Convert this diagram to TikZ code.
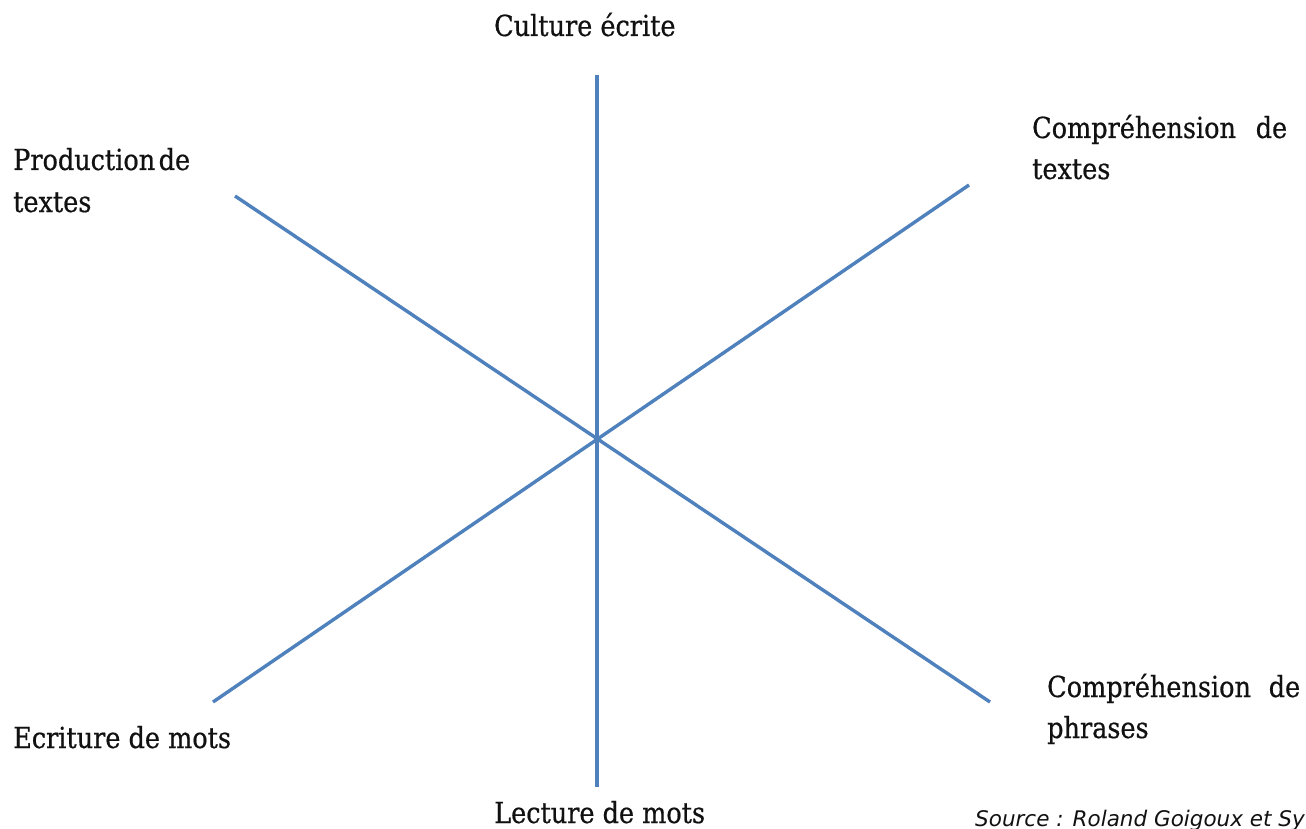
\documentclass[tikz,border=0pt]{standalone}
\usepackage{fontspec}
\setmainfont{DejaVu Serif}[FakeStretch=0.88,FakeBold=0.6]
\newfontfamily\srcfont{DejaVu Sans}
\definecolor{axisblue}{HTML}{4F81BD}
\definecolor{txt}{HTML}{111111}
\begin{document}
\begin{tikzpicture}[x=1pt,y=-1pt,
  axisline/.style={draw=axisblue,line width=3.4pt},
  lbl/.style={anchor=base west,inner sep=0pt,text=txt,font=\fontsize{29}{40}\selectfont},
  srclbl/.style={anchor=base west,inner sep=0pt,text=txt,font=\srcfont\itshape\fontsize{21.5}{24}\selectfont}]
\useasboundingbox (0,0) rectangle (1306,829);
\clip (0,0) rectangle (1306,829);
\fill[white] (0,0) rectangle (1306,829);
% axes
\coordinate (top) at (597,75);
\coordinate (bot) at (597,787);
\coordinate (tl) at (235,196);
\coordinate (br) at (990,702);
\coordinate (tr) at (969,185);
\coordinate (bl) at (213,702);
\draw[axisline] (top) -- (bot);
\draw[axisline] (tl) -- (br);
\draw[axisline] (tr) -- (bl);
% labels
\node[lbl] (culture) at (494,36) {Culture écrite};
\node[lbl] (prod1) at (13,170) {Production\hspace{0.12em}de};
\node[lbl] (prod2) at (13,212) {textes};
\node[lbl] (ctext1) at (1032,138) {\makebox[255pt][s]{Compréhension de}};
\node[lbl] (ctext2) at (1032,179) {textes};
\node[lbl] (ecrit) at (13,748) {Ecriture de mots};
\node[lbl] (cphr1) at (1047,697) {\makebox[253pt][s]{Compréhension de}};
\node[lbl] (cphr2) at (1047,738) {phrases};
\node[lbl] (lect) at (494,823) {Lecture de mots};
\node[srclbl] (source) at (975,826) {Source : Roland Goigoux et Sy};
\end{tikzpicture}
\end{document}
